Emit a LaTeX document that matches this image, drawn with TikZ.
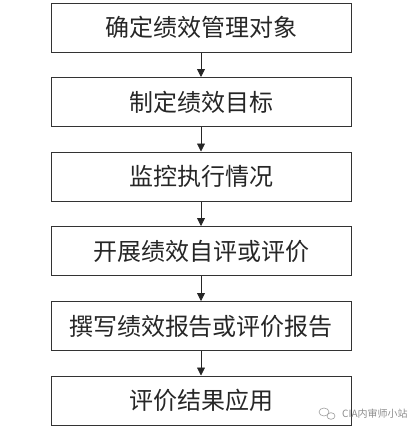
\documentclass[tikz,border=0pt]{standalone}
\usepackage{fontspec}
\newfontfamily\cjk{Noto Sans CJK SC}
\usetikzlibrary{arrows.meta}
\begin{document}
\begin{tikzpicture}[x=1pt,y=-1pt,
  stepbox/.style={draw=black!80,line width=1pt,minimum width=300pt,minimum height=49pt,inner sep=0pt,text=black!85,font=\cjk\fontsize{24}{26}\selectfont},
  flow/.style={draw=black!85,line width=0.8pt,-{Triangle[width=8pt,length=8pt]}}]
\useasboundingbox (0,0) rectangle (418,434);
\node[stepbox] (b1) at (201,27.5) {确定绩效管理对象};
\node[stepbox] (b2) at (201,102) {制定绩效目标};
\node[stepbox] (b3) at (201,176.5) {监控执行情况};
\node[stepbox] (b4) at (201,251) {开展绩效自评或评价};
\node[stepbox] (b5) at (201,326) {撰写绩效报告或评价报告};
\node[stepbox] (b6) at (201,400.5) {评价结果应用};
\draw[flow] (b1) -- (b2);
\draw[flow] (b2) -- (b3);
\draw[flow] (b3) -- (b4);
\draw[flow] (b4) -- (b5);
\draw[flow] (b5) -- (b6);
\node[font=\cjk\fontsize{10}{12}\selectfont,text=black!45,anchor=west,inner sep=0pt] (wm) at (342,414) {CIA内审师小站};
\draw[black!40,line width=0.6pt] (324,412) ellipse (5pt and 4pt);
\draw[black!40,line width=0.6pt] (331,416) ellipse (4pt and 3.3pt);
\end{tikzpicture}
\end{document}
